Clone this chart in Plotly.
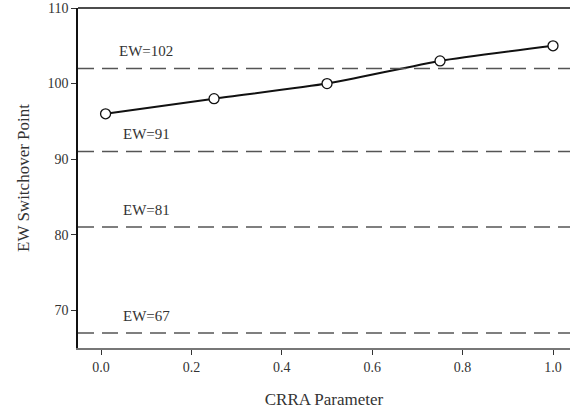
import plotly.graph_objects as go

crra = [0.01, 0.25, 0.5, 0.75, 1.0]
switchover = [96, 98, 100, 103, 105]
ew_levels = [102, 91, 81, 67]
ew_labels = ["EW=102", "EW=91", "EW=81", "EW=67"]
x_ticks = [0.0, 0.2, 0.4, 0.6, 0.8, 1.0]
x_tick_text = ["0.0", "0.2", "0.4", "0.6", "0.8", "1.0"]
y_ticks = [70, 80, 90, 100, 110]

font = "Liberation Serif, Times New Roman, serif"

fig = go.Figure()

for lvl in ew_levels:
    fig.add_shape(type="line", xref="paper", yref="y", x0=0, x1=1, y0=lvl, y1=lvl,
                  line=dict(color="#555555", width=1.5, dash="16px,8px"))

for lvl, lab in zip(ew_levels, ew_labels):
    fig.add_annotation(x=0.1, y=lvl + 2.3, text=lab, showarrow=False,
                       font=dict(family=font, size=15, color="#333333"))

fig.add_trace(go.Scatter(x=crra, y=switchover, mode="lines+markers",
                         line=dict(color="#111111", width=2, shape="spline", smoothing=0.5),
                         marker=dict(size=10, color="white", line=dict(color="#111111", width=1.3)),
                         showlegend=False))

fig.add_shape(type="line", xref="paper", yref="paper", x0=0, x1=1, y0=1, y1=1,
              line=dict(color="#111111", width=1.5))

fig.update_layout(
    width=570, height=410,
    margin=dict(l=78, r=0, t=8, b=62, autoexpand=False),
    plot_bgcolor="white", paper_bgcolor="white",
    font=dict(family=font, size=14, color="#333333"),
    xaxis=dict(range=[-0.051, 1.0376], tickvals=x_ticks, ticktext=x_tick_text,
               showgrid=False, zeroline=False, showline=True, linecolor="#777777", linewidth=1.5,
               ticks="outside", ticklen=5, tickcolor="#333333",
               title=dict(text="CRRA Parameter", font=dict(family=font, size=17), standoff=20)),
    yaxis=dict(range=[65, 110], tickvals=y_ticks,
               showgrid=False, zeroline=False, showline=True, linecolor="#111111", linewidth=1.5,
               ticks="outside", ticklen=5, tickcolor="#333333",
               title=dict(text="EW Switchover Point", font=dict(family=font, size=17), standoff=14)),
)

fig.write_html("out.html", config={"displayModeBar": False},
               post_script="document.body.style.margin='0';")
